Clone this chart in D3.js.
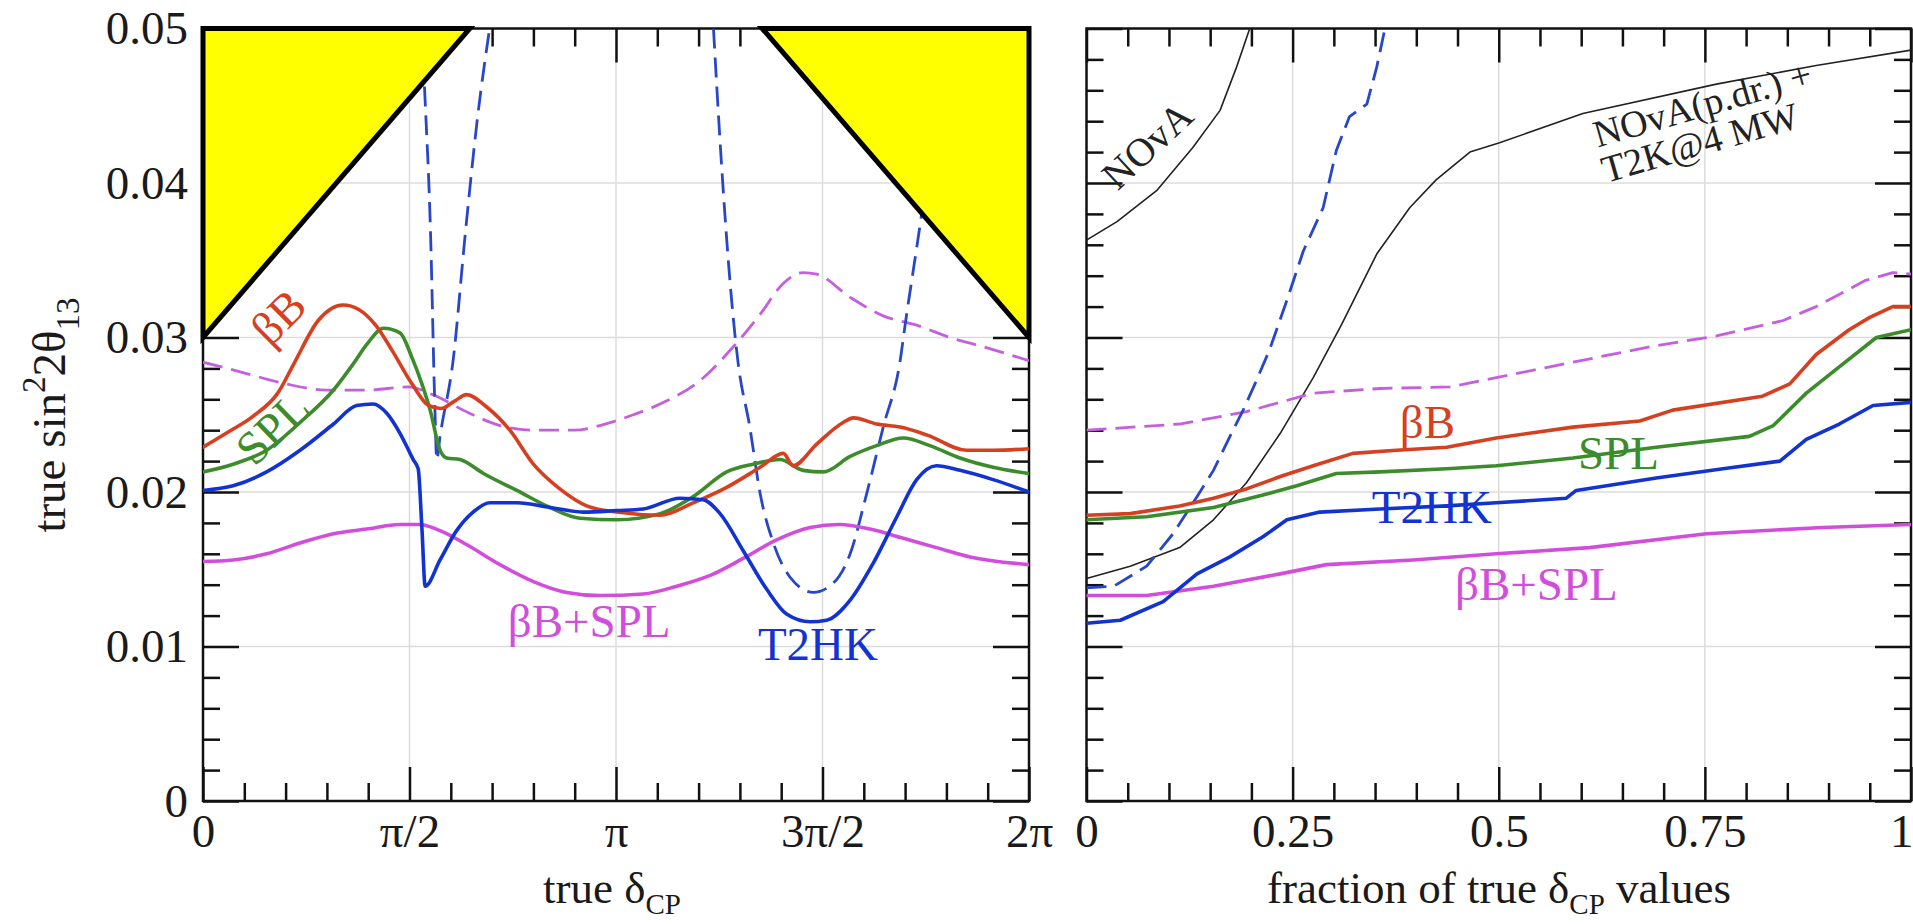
<!DOCTYPE html>
<html>
<head>
<meta charset="utf-8">
<script src="https://cdn.jsdelivr.net/npm/d3@7"></script>
<style>
  body { margin: 0; background: #fff; }
  svg { display: block; font-family: "Liberation Serif", "Times New Roman", serif; }
  .grid line { stroke: #dcdcdc; stroke-width: 1.5; }
  .ax path.domain { display: none; }
  .ax line { stroke: #111; stroke-width: 2.5; }
  .ax text { font-size: 47px; fill: #1a1a1a; font-family: "Liberation Serif", serif; }
  .curve { fill: none; stroke-width: 3.6; stroke-linejoin: round; stroke-linecap: round; }
  .dash { stroke-dasharray: 20 9; stroke-width: 2.8; stroke-linecap: butt; }
  .thin { stroke-width: 1.6; }
  .lab { font-size: 47px; }
</style>
</head>
<body>
<svg id="chart" width="1913" height="924"></svg>
<script>
// ---- axes ----
const leftTicks = [0, 0.5, 1, 1.5, 2];               // true delta_CP / pi
const leftTickLabels = ["0", "π/2", "π", "3π/2", "2π"];
const rightTicks = [0, 0.25, 0.5, 0.75, 1];
const rightTickLabels = ["0", "0.25", "0.5", "0.75", "1"];
const yTicks = [0, 0.01, 0.02, 0.03, 0.04, 0.05];
const yTickLabels = ["0", "0.01", "0.02", "0.03", "0.04", "0.05"];

// ---- left panel: [delta/pi, sin^2 2theta13] ----
const bbLeft = [[0,0.0229],[0.062,0.0239],[0.121,0.0249],[0.181,0.0264],[0.22,0.0283],[0.279,0.0311],[0.339,0.0321],[0.378,0.0318],[0.418,0.0308],[0.457,0.0292],[0.506,0.0270],[0.546,0.0256],[0.576,0.0254],[0.61,0.0259],[0.638,0.0263],[0.687,0.0255],[0.743,0.0240],[0.8,0.0218],[0.864,0.0202],[0.929,0.0191],[1.002,0.0187],[1.107,0.0185],[1.187,0.0193],[1.268,0.0203],[1.349,0.0216],[1.405,0.0225],[1.429,0.0217],[1.486,0.0231],[1.55,0.0245],[1.575,0.0248],[1.631,0.0244],[1.688,0.0242],[1.752,0.0237],[1.849,0.0227],[1.913,0.0227],[2,0.0228]];
const splLeft = [[0,0.0213],[0.073,0.0218],[0.154,0.0227],[0.235,0.0245],[0.316,0.0266],[0.364,0.0283],[0.398,0.0296],[0.437,0.0306],[0.477,0.0303],[0.506,0.0287],[0.53,0.0270],[0.55,0.0253],[0.574,0.0227],[0.59,0.0222],[0.622,0.0221],[0.679,0.0212],[0.76,0.0201],[0.84,0.0190],[0.913,0.0183],[1.002,0.0182],[1.107,0.0186],[1.187,0.0197],[1.268,0.0213],[1.332,0.0218],[1.397,0.0221],[1.453,0.0214],[1.502,0.0213],[1.567,0.0223],[1.631,0.0230],[1.696,0.0235],[1.76,0.0230],[1.833,0.0222],[1.913,0.0216],[2,0.0212]];
const t2hkLeft = [[0,0.0201],[0.073,0.0204],[0.154,0.0213],[0.235,0.0227],[0.316,0.0244],[0.372,0.0256],[0.412,0.0257],[0.445,0.0251],[0.477,0.0238],[0.509,0.0221],[0.521,0.0215],[0.53,0.0177],[0.538,0.0139],[0.574,0.0156],[0.614,0.0175],[0.654,0.0187],[0.695,0.0193],[0.76,0.0193],[0.84,0.0190],[0.921,0.0187],[1.002,0.0188],[1.066,0.0189],[1.155,0.0196],[1.211,0.0195],[1.252,0.0186],[1.308,0.0162],[1.365,0.0137],[1.413,0.0121],[1.47,0.0116],[1.51,0.0117],[1.567,0.0130],[1.623,0.0154],[1.68,0.0184],[1.728,0.0208],[1.776,0.0217],[1.833,0.0214],[1.913,0.0208],[2,0.0200]];
const comboLeft = [[0,0.0155],[0.073,0.0156],[0.154,0.0160],[0.235,0.0167],[0.316,0.0173],[0.396,0.0176],[0.477,0.0179],[0.525,0.0179],[0.574,0.0175],[0.638,0.0166],[0.719,0.0153],[0.8,0.0142],[0.88,0.0135],[0.961,0.0133],[1.066,0.0134],[1.147,0.0139],[1.228,0.0146],[1.308,0.0157],[1.389,0.0169],[1.47,0.0177],[1.542,0.0179],[1.615,0.0176],[1.696,0.0170],[1.776,0.0164],[1.857,0.0158],[2,0.0153]];
const comboDashLeft = [[0,0.0284],[0.101,0.0277],[0.2,0.0270],[0.299,0.0266],[0.398,0.0266],[0.496,0.0268],[0.556,0.0263],[0.645,0.0251],[0.719,0.0243],[0.8,0.0240],[0.9,0.0240],[0.961,0.0243],[1.042,0.0250],[1.123,0.0259],[1.203,0.0272],[1.284,0.0294],[1.349,0.0315],[1.405,0.0335],[1.453,0.0342],[1.486,0.0341],[1.567,0.0326],[1.647,0.0314],[1.728,0.0308],[1.809,0.0300],[1.889,0.0294],[2,0.0285]];
const t2hkDashA = [[0.53,0.0500],[0.536,0.0464],[0.551,0.0367],[0.561,0.0259],[0.566,0.0221],[0.574,0.0236],[0.606,0.0286],[0.635,0.0367],[0.665,0.0443],[0.694,0.0500]];
const t2hkDashB = [[1.236,0.0500],[1.256,0.0410],[1.28,0.0324],[1.295,0.0285],[1.324,0.0242],[1.349,0.0199],[1.381,0.0167],[1.421,0.0145],[1.478,0.0135],[1.526,0.0141],[1.567,0.0160],[1.607,0.0199],[1.647,0.0242],[1.688,0.0285],[1.7,0.0308],[1.74,0.0380],[1.77,0.0440]];
const excludedLeft = [[0,0.05],[0,0.03],[0.646,0.05]];
const excludedRight = [[2,0.05],[2,0.03],[1.354,0.05]];

// ---- right panel: [fraction of delta_CP values, sin^2 2theta13] ----
const bbRight = [[0,0.0185],[0.053,0.0186],[0.113,0.0191],[0.154,0.0196],[0.194,0.0202],[0.235,0.0210],[0.275,0.0217],[0.323,0.0225],[0.376,0.0227],[0.437,0.0229],[0.497,0.0235],[0.59,0.0242],[0.671,0.0246],[0.711,0.0253],[0.82,0.0262],[0.853,0.0270],[0.885,0.0289],[0.925,0.0305],[0.95,0.0313],[0.978,0.0320],[1,0.0320]];
const splRight = [[0,0.0182],[0.073,0.0184],[0.154,0.0190],[0.214,0.0198],[0.255,0.0204],[0.303,0.0212],[0.356,0.0213],[0.437,0.0215],[0.497,0.0217],[0.59,0.0222],[0.691,0.0229],[0.804,0.0236],[0.833,0.0243],[0.873,0.0264],[0.913,0.0281],[0.958,0.0300],[1,0.0305]];
const t2hkRight = [[0,0.0115],[0.041,0.0117],[0.093,0.0129],[0.134,0.0147],[0.174,0.0158],[0.214,0.0171],[0.243,0.0182],[0.283,0.0187],[0.356,0.0189],[0.437,0.0191],[0.497,0.0193],[0.582,0.0196],[0.594,0.0201],[0.691,0.0209],[0.772,0.0215],[0.841,0.0220],[0.873,0.0234],[0.913,0.0244],[0.954,0.0256],[1,0.0258]];
const comboRight = [[0,0.0133],[0.073,0.0133],[0.154,0.0139],[0.235,0.0147],[0.291,0.0153],[0.396,0.0156],[0.497,0.0160],[0.61,0.0164],[0.752,0.0173],[0.893,0.0177],[1,0.0179]];
const comboDashRight = [[0,0.0240],[0.113,0.0244],[0.194,0.0252],[0.275,0.0264],[0.356,0.0267],[0.441,0.0268],[0.562,0.0281],[0.683,0.0294],[0.764,0.0301],[0.845,0.0311],[0.885,0.0320],[0.945,0.0337],[0.978,0.0342],[1,0.0341]];
const t2hkDashRight = [[0,0.0138],[0.033,0.0139],[0.073,0.0152],[0.105,0.0173],[0.134,0.0197],[0.154,0.0214],[0.174,0.0236],[0.19,0.0253],[0.206,0.0272],[0.222,0.0292],[0.243,0.0324],[0.263,0.0356],[0.287,0.0384],[0.303,0.0421],[0.319,0.0443],[0.34,0.0451],[0.352,0.0475],[0.362,0.0500]];
const novaRight = [[0,0.0363],[0.037,0.0375],[0.085,0.0395],[0.129,0.0423],[0.162,0.0447],[0.182,0.0475],[0.198,0.0500]];
const novaT2kRight = [[0,0.0144],[0.053,0.0152],[0.113,0.0164],[0.154,0.0182],[0.194,0.0206],[0.235,0.0238],[0.275,0.0274],[0.309,0.0308],[0.352,0.0354],[0.392,0.0384],[0.424,0.0402],[0.465,0.0420],[0.501,0.0426],[0.602,0.0445],[0.764,0.0464],[0.885,0.0476],[1,0.0486]];

const RED = "#d63f1f", GREEN = "#3c8c2c", BLUE = "#1233d2", MAG = "#d24ddc", MAGD = "#c55fe0", BLUED = "#2846c8";

const svg = d3.select("#chart");
svg.append("rect").attr("width", 1913).attr("height", 924).attr("fill", "#fff");

const y = d3.scaleLinear().domain([0, 0.05]).range([801, 28.5]);
const xL = d3.scaleLinear().domain([0, 2]).range([203, 1029]);
const xR = d3.scaleLinear().domain([0, 1]).range([1086.5, 1911]);

const yMinor = d3.range(0.002, 0.05, 0.002).filter(v => Math.abs(v * 100 - Math.round(v * 100)) > 1e-6);

function panel(id, x, xTicks, xLabels, xMinor, yLabels) {
  const g = svg.append("g");
  const [x0, x1] = x.range();
  const [yb, yt] = y.range();

  const grid = g.append("g").attr("class", "grid");
  grid.append("g").selectAll("line").data(xTicks.slice(1, -1)).join("line")
    .attr("x1", d => x(d)).attr("x2", d => x(d)).attr("y1", yb).attr("y2", yt);
  grid.append("g").selectAll("line").data(yTicks.slice(1, -1)).join("line")
    .attr("x1", x0).attr("x2", x1).attr("y1", d => y(d)).attr("y2", d => y(d));

  const ax = g.append("g").attr("class", "ax");
  ax.append("g").attr("transform", `translate(0,${yb})`)
    .call(d3.axisBottom(x).tickValues(xTicks).tickFormat((d, i) => xLabels[i]).tickSize(-34).tickPadding(13));
  ax.append("g").attr("transform", `translate(0,${yb})`)
    .call(d3.axisBottom(x).tickValues(xMinor).tickFormat("").tickSize(-18));
  ax.append("g").attr("transform", `translate(0,${yt})`)
    .call(d3.axisTop(x).tickValues(xTicks).tickFormat("").tickSize(-34));
  ax.append("g").attr("transform", `translate(0,${yt})`)
    .call(d3.axisTop(x).tickValues(xMinor).tickFormat("").tickSize(-18));
  ax.append("g").attr("transform", `translate(${x0},0)`)
    .call(d3.axisLeft(y).tickValues(yTicks).tickFormat((d, i) => yLabels ? yLabels[i] : "").tickSize(-36).tickPadding(15));
  ax.append("g").attr("transform", `translate(${x0},0)`)
    .call(d3.axisLeft(y).tickValues(yMinor).tickFormat("").tickSize(-17));
  ax.append("g").attr("transform", `translate(${x1},0)`)
    .call(d3.axisRight(y).tickValues(yTicks).tickFormat("").tickSize(-36));
  ax.append("g").attr("transform", `translate(${x1},0)`)
    .call(d3.axisRight(y).tickValues(yMinor).tickFormat("").tickSize(-17));
  g.append("rect").attr("x", x0).attr("y", yt).attr("width", x1 - x0).attr("height", yb - yt)
    .attr("fill", "none").attr("stroke", "#111").attr("stroke-width", 2.5);

  svg.append("clipPath").attr("id", id).append("rect")
    .attr("x", x0).attr("y", yt).attr("width", x1 - x0).attr("height", yb - yt);
  const plot = g.append("g").attr("clip-path", `url(#${id})`);
  return { g, plot, ax };
}

function label(g, x, px, py, txt, color, size, rot, anchor) {
  g.append("text").attr("class", "lab")
    .attr("transform", `translate(${x(px)},${y(py)}) rotate(${rot || 0})`)
    .attr("text-anchor", anchor || "start")
    .attr("fill", color).style("font-size", size + "px").text(txt);
}

function curve(plot, x, data, color, cls, smooth) {
  const line = d3.line().x(d => x(d[0])).y(d => y(d[1]))
    .curve(smooth ? d3.curveMonotoneX : d3.curveLinear);
  plot.append("path").datum(data).attr("class", "curve " + (cls || ""))
    .attr("stroke", color).attr("d", line);
}

// left panel
const L = panel("clipL", xL, leftTicks, leftTickLabels, d3.range(0.1, 2, 0.1).filter(v => Math.abs(v * 2 - Math.round(v * 2)) > 1e-6), yTickLabels);
label(L.g, xL, 0.21, 0.0306, "βB", RED, 47, -45, "middle");
label(L.g, xL, 0.195, 0.0234, "SPL", GREEN, 47, -44, "middle");
label(L.g, xL, 0.738, 0.0106, "βB+SPL", MAG, 47, 0, "start");
label(L.g, xL, 1.489, 0.0091, "T2HK", BLUE, 47, 0, "middle");
curve(L.plot, xL, comboDashLeft, MAGD, "dash", true);
curve(L.plot, xL, t2hkDashA, BLUED, "dash", true);
curve(L.plot, xL, t2hkDashB, BLUED, "dash", true);
curve(L.plot, xL, comboLeft, MAG, "", true);
curve(L.plot, xL, splLeft, GREEN, "", true);
curve(L.plot, xL, bbLeft, RED, "", true);
curve(L.plot, xL, t2hkLeft, BLUE, "", true);
[excludedLeft, excludedRight].forEach(tri => {
  L.g.append("polygon")
    .attr("points", tri.map(d => [xL(d[0]), y(d[1])].join(",")).join(" "))
    .attr("fill", "#ffff00").attr("stroke", "#000").attr("stroke-width", 5)
    .attr("stroke-linejoin", "miter");
});

// right panel
const R = panel("clipR", xR, rightTicks, rightTickLabels, d3.range(0.05, 1, 0.05).filter(v => Math.abs(v * 4 - Math.round(v * 4)) > 1e-6), null);
// last tick label sits at the image edge: keep it inside
R.ax.selectAll("text").filter(d => d === 1).attr("text-anchor", "end").attr("x", 2);
label(R.g, xR, 0.380, 0.0235, "βB", RED, 47, 0, "start");
label(R.g, xR, 0.596, 0.0215, "SPL", GREEN, 47, 0, "start");
label(R.g, xR, 0.346, 0.0180, "T2HK", BLUE, 47, 0, "start");
label(R.g, xR, 0.447, 0.0130, "βB+SPL", MAG, 47, 0, "start");
label(R.g, xR, 0.085, 0.0418, "NOvA", "#222", 40, -43, "middle");
label(R.g, xR, 0.62, 0.0423, "NOvA(p.dr.) +", "#222", 38, -16, "start");
label(R.g, xR, 0.63, 0.0400, "T2K@4 MW", "#222", 38, -16, "start");
curve(R.plot, xR, novaRight, "#222", "thin", false);
curve(R.plot, xR, novaT2kRight, "#222", "thin", false);
curve(R.plot, xR, comboDashRight, MAGD, "dash", false);
curve(R.plot, xR, t2hkDashRight, BLUED, "dash", false);
curve(R.plot, xR, comboRight, MAG, "", false);
curve(R.plot, xR, t2hkRight, BLUE, "", false);
curve(R.plot, xR, splRight, GREEN, "", false);
curve(R.plot, xR, bbRight, RED, "", false);

// axis titles
const t1 = svg.append("text").attr("x", 612).attr("y", 903).attr("text-anchor", "middle")
  .style("font-size", "45px").attr("fill", "#1a1a1a");
t1.append("tspan").text("true δ");
t1.append("tspan").attr("dy", 11).style("font-size", "29px").text("CP");

const t2 = svg.append("text").attr("x", 1499).attr("y", 903).attr("text-anchor", "middle")
  .style("font-size", "45px").attr("fill", "#1a1a1a");
t2.append("tspan").text("fraction of true δ");
t2.append("tspan").attr("dy", 11).style("font-size", "29px").text("CP");
t2.append("tspan").attr("dy", -11).text(" values");

const t3 = svg.append("text").attr("transform", "translate(65,415) rotate(-90)")
  .attr("text-anchor", "middle").style("font-size", "47px").attr("fill", "#1a1a1a");
t3.append("tspan").text("true  sin");
t3.append("tspan").attr("dy", -20).style("font-size", "33px").text("2");
t3.append("tspan").attr("dy", 20).text("2θ");
t3.append("tspan").attr("dy", 14).style("font-size", "33px").text("13");
</script>
</body>
</html>
